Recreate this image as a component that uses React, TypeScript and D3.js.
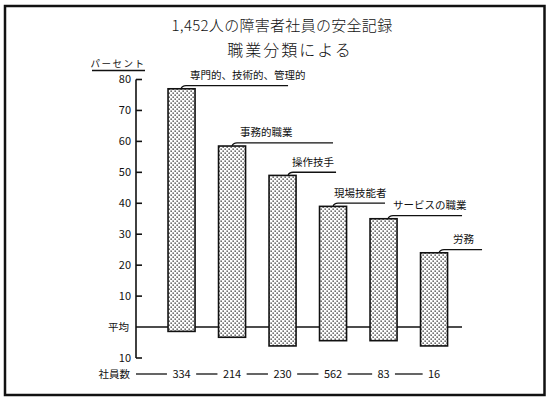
import * as d3 from "d3";

// chart data
const titleLines = ["1,452人の障害者社員の安全記録", "職業分類による"];
const categories = [
    "専門的、技術的、管理的",
    "事務的職業",
    "操作技手",
    "現場技能者",
    "サービスの職業",
    "労務",
];
const barTop = [77, 58.5, 49, 39, 35, 24];
const barBase = [-1.4, -3.3, -6.1, -4.4, -4.4, -6.1];
const employeeCounts = ["334", "214", "230", "562", "83", "16"];
const yTicks = [80, 70, 60, 50, 40, 30, 20, 10];
const yUnit = "パーセント";
const averageLabel = "平均";
const countLabel = "社員数";

// leader line layout for the category labels (offset from band start, line length, text offset)
const leaderStart = [14, 14.5, 20, 14.5, 19, 19.5];
const leaderLength = [106, 100, 47, 51, 73, 42];
const labelShift = [8, 7, 3, 0, 4, 13];

const W = 548;
const H = 398;
const FONT = "'Noto Sans CJK JP', 'Noto Sans', sans-serif";
const INK = "#111";

export default function App() {
    const axisX = 136;
    const y = d3.scaleLinear().domain([-10, 80]).range([358, 79.5]);
    const x = d3.scaleBand<string>()
        .domain(categories)
        .range([156.3, 459.3])
        .paddingInner(0.465)
        .paddingOuter(0.2325);
    const bw = x.bandwidth();

    // bottom row: dashes between the counts
    const centers = categories.map(c => x(c)! + bw / 2);
    const halfW = employeeCounts.map(s => s.length * 3.2);
    const dashes = centers.map((cx, i) => {
        const from = i === 0 ? axisX : centers[i - 1] + halfW[i - 1] + 5;
        return [from, cx - halfW[i] - 5];
    });
    const countY = 374;

    return (
        <svg width={W} height={H} style={{ position: "absolute", left: 0, top: 0, background: "#fff" }}
            fontFamily={FONT}>
            <defs>
                <pattern id="dots" patternUnits="userSpaceOnUse" width={4} height={4}>
                    <rect width={4} height={4} fill="#fff" />
                    <rect x={0.5} y={0.5} width={1.3} height={1.3} fill="#222" />
                    <rect x={2.5} y={2.5} width={1.3} height={1.3} fill="#222" />
                </pattern>
            </defs>

            <rect x={5} y={6} width={539.5} height={389} fill="none" stroke={INK} strokeWidth={2.5} />

            {titleLines.map((t, i) => (
                <text key={t} x={i === 0 ? 282 : 290} y={i === 0 ? 31 : 56} textAnchor="middle"
                    fontSize={i === 0 ? 15 : 16} fontWeight={300} letterSpacing={i === 0 ? 0.3 : 2} fill={INK}>{t}</text>
            ))}

            {/* y unit */}
            <text x={118} y={67} textAnchor="middle" fontSize={9.5} letterSpacing={1.5} fill={INK}>{yUnit}</text>
            <line x1={92} x2={145} y1={70.5} y2={70.5} stroke={INK} strokeWidth={1.3} />

            {/* axis */}
            <line x1={axisX} x2={axisX} y1={y(80)} y2={y(-10)} stroke={INK} strokeWidth={1.6} />
            {yTicks.map(t => (
                <g key={t}>
                    <line x1={axisX} x2={axisX + 6} y1={y(t)} y2={y(t)} stroke={INK} strokeWidth={1.6} />
                    <text x={131} y={y(t)} dy="0.35em" textAnchor="end" fontSize={11} fill={INK}>{t}</text>
                </g>
            ))}
            <line x1={axisX} x2={axisX + 6} y1={y(-10)} y2={y(-10)} stroke={INK} strokeWidth={1.6} />
            <text x={131} y={y(-10)} dy="0.35em" textAnchor="end" fontSize={11} fill={INK}>10</text>
            <text x={129} y={y(0)} dy="0.35em" textAnchor="end" fontSize={10.5} fill={INK}>{averageLabel}</text>

            {/* average line */}
            <line x1={axisX} x2={462} y1={y(0)} y2={y(0)} stroke={INK} strokeWidth={1.6} />

            {/* bars */}
            {categories.map((c, i) => (
                <rect key={c} x={x(c)} y={y(barTop[i])} width={bw} height={y(barBase[i]) - y(barTop[i])}
                    fill="url(#dots)" stroke={INK} strokeWidth={1.6} />
            ))}

            {/* labels with leader lines */}
            {categories.map((c, i) => {
                const sx = x(c)! + leaderStart[i];
                const top = y(barTop[i]);
                const ly = top - 3.2;
                const path = d3.path();
                path.moveTo(sx - 1, top);
                path.quadraticCurveTo(sx, ly, sx + 4, ly);
                path.lineTo(sx + leaderLength[i], ly);
                return (
                    <g key={c}>
                        <path d={path.toString()} fill="none" stroke={INK} strokeWidth={1.3} />
                        <text x={sx + labelShift[i]} y={ly - 6.5} fontSize={10.5} fill={INK}>{c}</text>
                    </g>
                );
            })}

            {/* employee counts */}
            <text x={130} y={countY} dy="0.35em" textAnchor="end" fontSize={10.5} fill={INK}>{countLabel}</text>
            {dashes.map(([a, b], i) => (
                <line key={i} x1={a} x2={b} y1={countY} y2={countY} stroke={INK} strokeWidth={1.3} />
            ))}
            {employeeCounts.map((n, i) => (
                <text key={i} x={centers[i]} y={countY} dy="0.35em" textAnchor="middle" fontSize={11} fill={INK}>{n}</text>
            ))}
        </svg>
    );
}
